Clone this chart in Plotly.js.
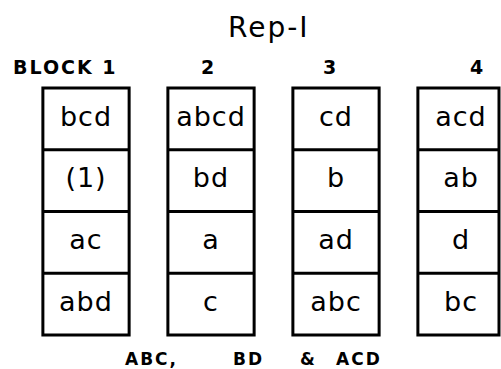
<!DOCTYPE html>
<html><head><meta charset="utf-8">
<script src="https://cdn.plot.ly/plotly-3.0.1.min.js"></script>
<style>html,body{margin:0;padding:0;background:#fff}#c{width:501px;height:369px}
.textpoint text{letter-spacing:1px}
.annotation-text{letter-spacing:2px}
</style>
</head><body><div id="c"></div>
<script>
const title = "Rep-I";
const blockLabels = ["BLOCK 1", "2", "3", "4"];
const block1 = ["bcd", "(1)", "ac", "abd"];
const block2 = ["abcd", "bd", "a", "c"];
const block3 = ["cd", "b", "ad", "abc"];
const block4 = ["acd", "ab", "d", "bc"];
const confounded = ["ABC,", "BD", "&", "ACD"];

const blocks = [block1, block2, block3, block4];
const halfW = 0.345;
const rightLimit = 3.304;
const labelOffsets = [-0.168, -0.024, -0.048, 0.128];
const confX = [0.52, 1.3, 1.78, 2.18];
const shapes = [];
const annotations = [];
const tx = [], ty = [], tt = [];
blocks.forEach((b, i) => {
  const x0 = i - halfW, x1 = Math.min(i + halfW, rightLimit);
  shapes.push({type: 'rect', xref: 'x', yref: 'y', x0: x0, x1: x1, y0: -0.5, y1: b.length - 0.5,
    line: {color: '#000', width: 3}});
  b.forEach((t, j) => {
    if (j > 0) shapes.push({type: 'line', xref: 'x', yref: 'y', x0: x0, x1: x1, y0: j - 0.5, y1: j - 0.5,
      line: {color: '#000', width: 3}});
    tx.push(i); ty.push(j); tt.push(t);
  });
  annotations.push({x: i + labelOffsets[i], y: -0.84, xref: 'x', yref: 'y', text: '<b>' + blockLabels[i] + '</b>',
    showarrow: false, font: {family: 'DejaVu Sans', size: 19, color: '#000'}});
});
annotations.push({x: 1.464, y: -1.48, xref: 'x', yref: 'y', text: title, showarrow: false,
  font: {family: 'DejaVu Sans', size: 28, color: '#000'}});
confounded.forEach((t, k) => {
  annotations.push({x: confX[k], y: 3.88, xref: 'x', yref: 'y', text: '<b>' + t + '</b>', showarrow: false,
    font: {family: 'DejaVu Sans', size: 17, color: '#000'}});
});

Plotly.newPlot('c', [{
  x: tx, y: ty, text: tt, mode: 'text', type: 'scatter',
  textfont: {family: 'DejaVu Sans', size: 27, color: '#000'}, hoverinfo: 'skip', showlegend: false
}], {
  width: 501, height: 369,
  margin: {l: 0, r: 0, t: 0, b: 0},
  paper_bgcolor: '#fff', plot_bgcolor: '#fff',
  xaxis: {range: [-0.688, 3.32], visible: false, fixedrange: true},
  yaxis: {range: [4.049, -1.927], visible: false, fixedrange: true},
  shapes: shapes, annotations: annotations, showlegend: false
}, {staticPlot: true});
</script></body></html>
